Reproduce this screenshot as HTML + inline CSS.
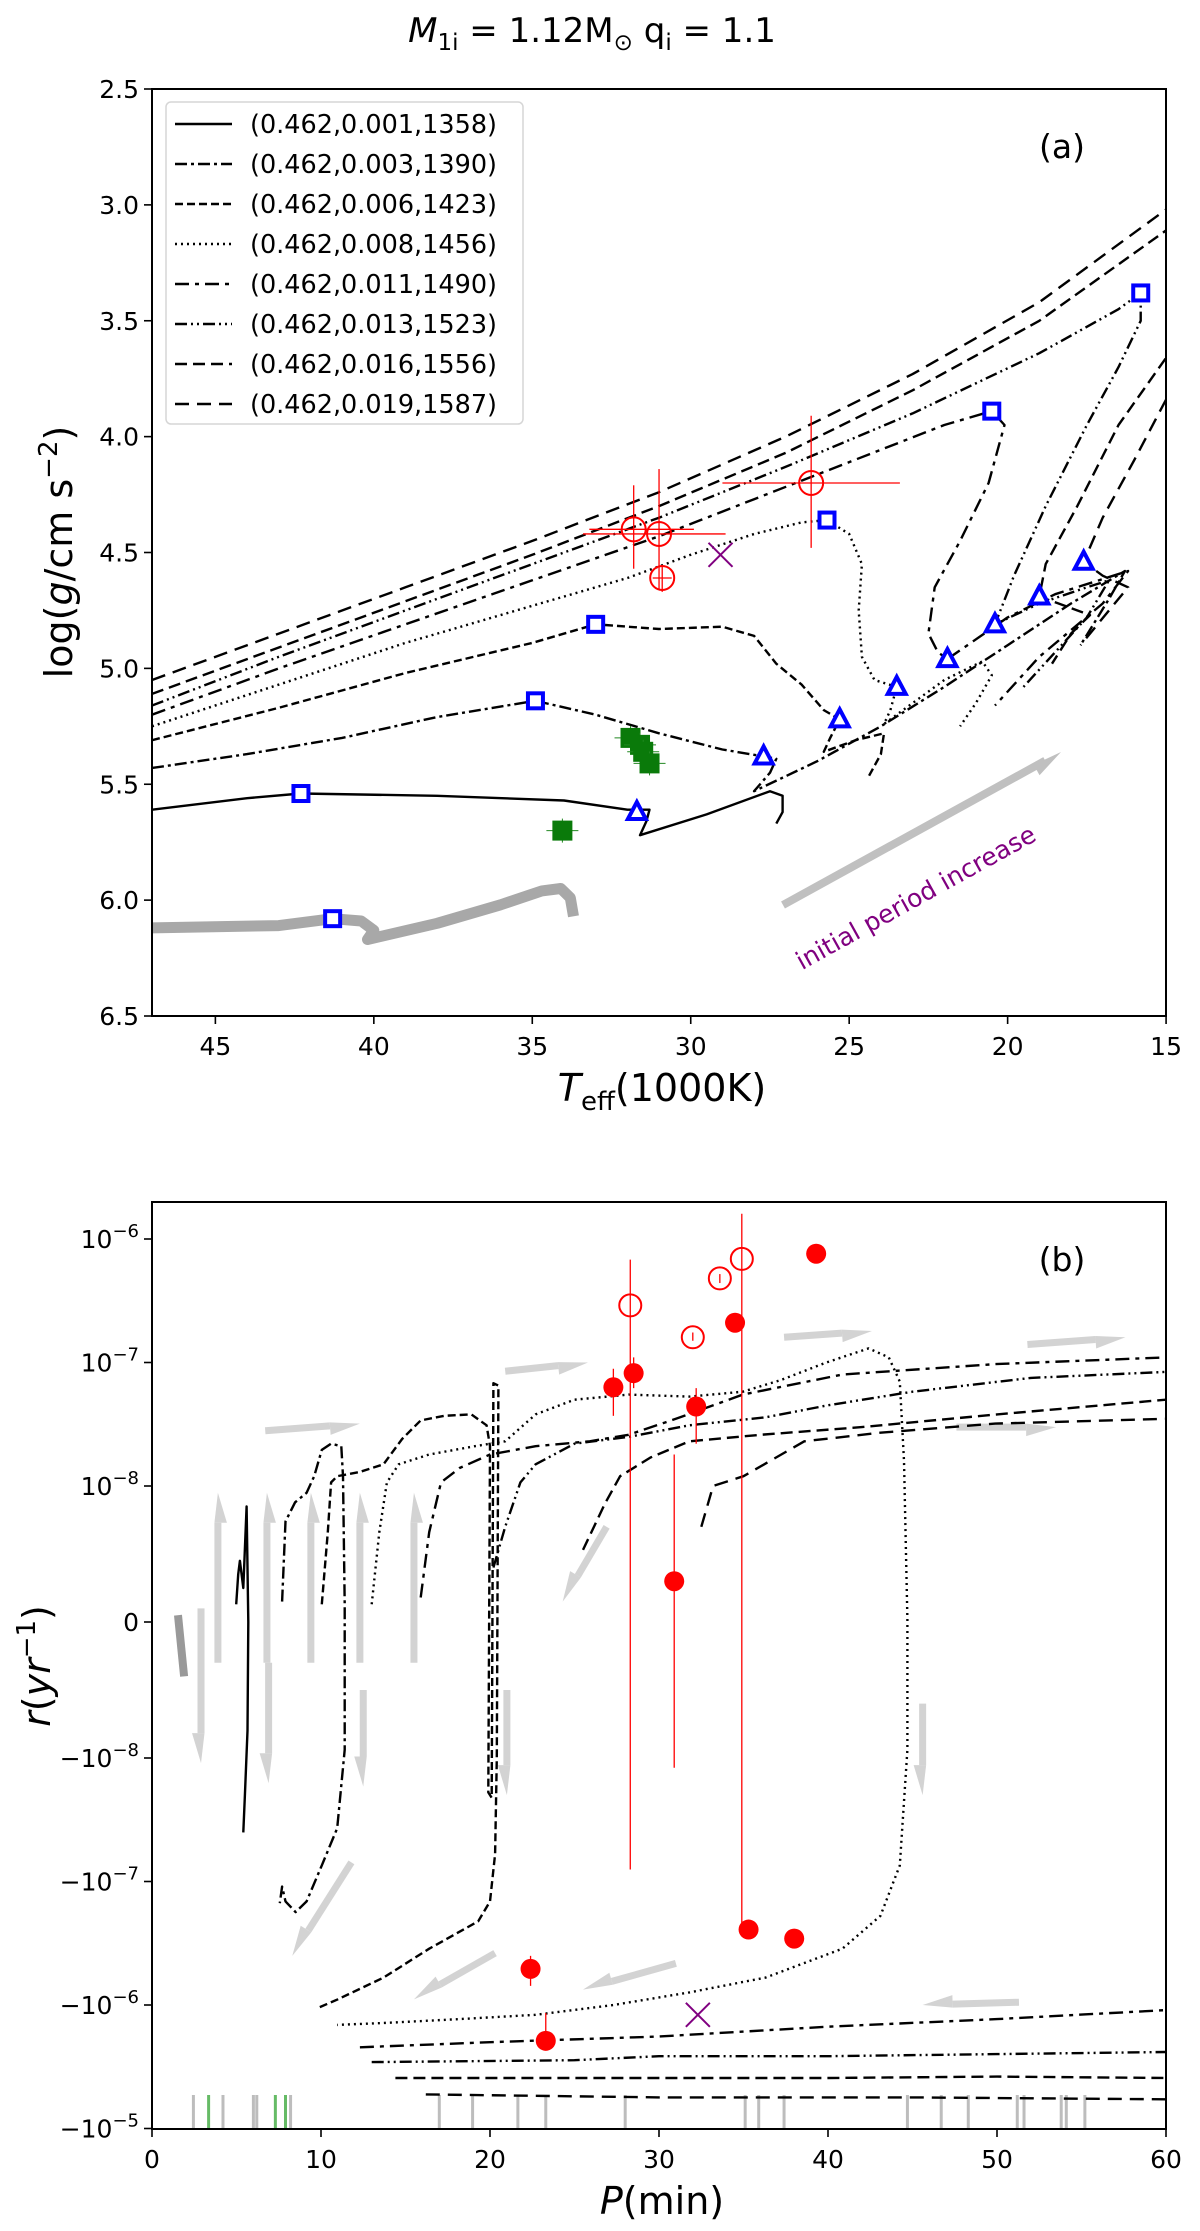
<!DOCTYPE html>
<html><head><meta charset="utf-8">
<style>
html,body{margin:0;padding:0;background:#fff;}
svg{display:block;font-family:"DejaVu Sans","Liberation Sans",sans-serif;}
</style></head>
<body>
<svg id="fig" width="1200" height="2231" viewBox="0 0 1200 2231" xmlns="http://www.w3.org/2000/svg">
<defs>
<clipPath id="clipA"><rect x="152" y="89" width="1014" height="927"/></clipPath>
<clipPath id="clipB"><rect x="152" y="1202" width="1014" height="927"/></clipPath>
</defs>
<text x="592" y="42" font-size="34" text-anchor="middle"><tspan font-style="italic">M</tspan><tspan font-size="23" dy="8">1i</tspan><tspan dy="-8"> = 1.12M</tspan><tspan font-size="23" dy="8">⊙</tspan><tspan dy="-8"> q</tspan><tspan font-size="23" dy="8">i</tspan><tspan dy="-8"> = 1.1</tspan></text>
<g id="panelA"></g>
<g id="panelB"></g>
</svg>
<script>
// ---------- Panel (a) data ----------
const seriesLabels = ["(0.462,0.001,1358)","(0.462,0.003,1390)","(0.462,0.006,1423)","(0.462,0.008,1456)","(0.462,0.011,1490)","(0.462,0.013,1523)","(0.462,0.016,1556)","(0.462,0.019,1587)"];
const trackA1 = [[47,5.61],[44,5.56],[42.3,5.54],[38,5.55],[34,5.57],[32,5.61],[31.3,5.61],[31.4,5.66],[31.6,5.72],[29.5,5.63],[27.5,5.53],[27.1,5.55],[27.1,5.62],[27.3,5.67]];
const trackA2 = [[47,5.43],[44,5.37],[41,5.3],[38,5.21],[34.9,5.14],[33,5.2],[31,5.28],[29,5.35],[27.7,5.38],[27.3,5.39],[27.5,5.45],[28.0,5.53],[26,5.4],[24,5.25],[22,5.08],[20,4.9],[18,4.72],[16.3,4.58],[16.8,4.7],[17.7,4.9]];
const trackA3 = [[47,5.31],[43,5.17],[39,5.02],[35,4.89],[33,4.81],[31,4.83],[29,4.82],[28,4.86],[27.3,4.98],[26.5,5.07],[25.8,5.18],[25.3,5.22],[25.6,5.3],[25.8,5.36],[24.8,5.31],[23.9,5.28],[24.0,5.37],[24.4,5.47]];
const trackA4 = [[47,5.25],[43,5.07],[39,4.89],[35,4.73],[32,4.61],[30,4.51],[28,4.42],[26.5,4.37],[25.7,4.36],[25,4.42],[24.6,4.55],[24.7,4.75],[24.6,4.95],[24.2,5.05],[23.5,5.08],[23.7,5.18],[23.9,5.24],[22,5.05],[20.8,4.97],[20.5,5.03],[21.0,5.15],[21.5,5.25]];
const trackA5 = [[47,5.2],[43,5.0],[39,4.81],[35,4.62],[31,4.43],[28,4.27],[25,4.11],[22,3.95],[20.5,3.89],[20.1,3.95],[20.6,4.2],[21.5,4.45],[22.3,4.65],[22.5,4.85],[22.2,4.93],[21.9,4.96],[20,4.78],[18.5,4.68],[16.2,4.58],[17,4.72],[19,4.95],[20.4,5.16]];
const trackA6 = [[47,5.16],[43,4.95],[39,4.75],[35,4.55],[31,4.35],[27,4.13],[23,3.9],[19,3.64],[16.5,3.45],[15.8,3.38],[15.8,3.5],[16.5,3.7],[17.5,3.95],[18.8,4.3],[19.8,4.6],[20.4,4.81],[19,4.72],[17.5,4.65],[16.8,4.62],[17.5,4.78],[19.5,5.08]];
const trackA7 = [[47,5.11],[43,4.91],[39,4.71],[35,4.51],[31,4.3],[27,4.07],[23,3.8],[19,3.5],[15,3.11],[13,2.9],[13,3.4],[15,3.66],[16.5,3.95],[17.8,4.3],[18.8,4.55],[19,4.69],[18.2,4.73],[17.4,4.77],[18,4.85],[18.6,4.98]];
const trackA8 = [[47,5.05],[43,4.85],[39,4.65],[35,4.45],[31,4.24],[27,4.0],[23,3.73],[19,3.42],[15,3.02],[13,2.8],[13,3.6],[15,3.84],[16,4.1],[17,4.35],[17.6,4.54],[17,4.6],[16.2,4.65],[16.8,4.75],[17.7,4.9]];
const grayTrackA = [[47,6.12],[43,6.11],[41.3,6.08],[40.4,6.09],[40.0,6.13],[40.2,6.17],[38,6.1],[36,6.02],[34.7,5.96],[34.1,5.95],[33.8,5.99],[33.7,6.07]];
const squaresT = [42.3,34.9,33.0,25.7,20.5,15.8,41.3];
const squaresG = [5.54,5.14,4.81,4.36,3.89,3.38,6.08];
const trianglesT = [31.7,27.7,25.3,23.5,21.9,20.4,19.0,17.6];
const trianglesG = [5.62,5.38,5.22,5.08,4.96,4.81,4.69,4.54];
const obsOpenT = [31.8,31.0,30.9,26.2];
const obsOpenG = [4.40,4.42,4.61,4.20];
const obsOpenTlo = [33.2,33.4,31.2,29.0];
const obsOpenThi = [29.9,28.9,30.6,23.4];
const obsOpenGlo = [4.21,4.14,4.56,3.91];
const obsOpenGhi = [4.57,4.66,4.67,4.48];
const greenT = [31.9,31.6,31.5,31.3,34.05];
const greenG = [5.30,5.33,5.36,5.41,5.70];
const crossA = [29.06,4.51];
const xTicksA = [45,40,35,30,25,20,15];
const yTicksA = [2.5,3.0,3.5,4.0,4.5,5.0,5.5,6.0,6.5];

// ---------- Panel (b) data ----------
const trackB1 = [[4.98,1.3e-9],[5.1,3.5e-9],[5.2,4.5e-9],[5.4,2.5e-9],[5.6,8.5e-9],[5.7,0],[5.65,-8e-9],[5.5,-2e-8],[5.4,-4e-8]];
const trackB2 = [[7.7,1.5e-9],[7.9,7.4e-9],[8.47,8.8e-9],[9.15,9.5e-9],[9.6,1.2e-8],[10.05,1.96e-8],[10.6,2.2e-8],[11.2,2.1e-8],[11.3,1.2e-8],[11.4,1.3e-9],[11.4,-9.4e-9],[10.96,-3.7e-8],[10.05,-7.4e-8],[9.15,-1.45e-7],[8.5,-1.77e-7],[7.9,-1.45e-7],[7.7,-1.1e-7],[7.56,-1.5e-7]];
const trackB3 = [[10.05,1.3e-9],[10.4,6.6e-9],[10.6,1.07e-8],[10.96,1.2e-8],[12.3,1.3e-8],[13.7,1.5e-8],[14.8,2.4e-8],[15.9,3.4e-8],[17.3,3.7e-8],[18.9,3.8e-8],[19.8,3.1e-8],[20.0,2.1e-8],[19.9,-1.9e-8],[20.1,-2.1e-8],[20.2,6.8e-8],[20.5,6.5e-8],[20.4,-1e-8],[20.3,-6e-8],[20.0,-1.45e-7],[19.3,-2.1e-7],[16.4,-3.5e-7],[13.7,-6e-7],[11,-9e-7],[9.8,-1.06e-6]];
const trackB4 = [[13.0,1.3e-9],[13.45,6.6e-9],[13.9,1.07e-8],[14.6,1.5e-8],[16.4,1.8e-8],[19.1,2.1e-8],[20.9,2.3e-8],[22.7,3.8e-8],[25.0,5e-8],[28.2,5.5e-8],[31.8,5.3e-8],[34.96,5.8e-8],[37.2,7.2e-8],[39.9,1e-7],[42.4,1.3e-7],[43.6,1.1e-7],[44.25,7e-8],[44.5,1.6e-8],[44.7,2e-10],[44.7,-9.4e-9],[44.25,-7.4e-8],[43.1,-1.9e-7],[40.85,-3.5e-7],[36.3,-6e-7],[31.8,-7.9e-7],[27.3,-1e-6],[22.7,-1.2e-6],[18.2,-1.3e-6],[13.7,-1.4e-6],[10.96,-1.45e-6]];
const trackB5pos = [[15.9,1.8e-9],[16.4,6.6e-9],[17.1,1.07e-8],[18.2,1.4e-8],[20.0,1.8e-8],[22.7,2.1e-8],[25.9,2.3e-8],[28.2,2.6e-8],[31,3.5e-8],[34.96,5.5e-8],[40.85,8e-8],[49.9,9.7e-8],[60,1.1e-7]];
const trackB6pos = [[20.2,4e-9],[20.9,7e-9],[21.8,1.07e-8],[22.7,1.5e-8],[25,2.2e-8],[28.2,2.5e-8],[31.8,3.1e-8],[36.3,3.6e-8],[40,4.5e-8],[45,5.8e-8],[52,7.5e-8],[60,8.4e-8]];
const trackB7pos = [[25.5,5.3e-9],[26.8,8.7e-9],[27.7,1.2e-8],[29.5,1.7e-8],[31.8,2.3e-8],[36,2.6e-8],[42,3e-8],[50,3.8e-8],[60,5e-8]];
const trackB8pos = [[32.5,7e-9],[33.2,1e-8],[35,1.2e-8],[38.6,2.3e-8],[43.1,2.7e-8],[49.9,3.2e-8],[60,3.5e-8]];
const trackB5neg = [[12.3,-2.2e-6],[20,-2.0e-6],[30,-1.8e-6],[40,-1.5e-6],[50,-1.3e-6],[60,-1.1e-6]];
const trackB6neg = [[13,-2.9e-6],[25,-2.8e-6],[30,-2.6e-6],[40,-2.6e-6],[50,-2.5e-6],[60,-2.4e-6]];
const trackB7neg = [[14.4,-3.9e-6],[25,-3.9e-6],[40,-3.9e-6],[50,-3.8e-6],[60,-3.9e-6]];
const trackB8neg = [[16.2,-5.3e-6],[30,-5.6e-6],[45,-5.6e-6],[60,-5.8e-6]];
const grayTrackB = [[1.54,5e-10],[1.9,-4e-9]];
const filledP = [27.3,28.5,32.2,34.5,39.3,30.9,35.3,38.0,22.4,23.3];
const filledR = [6.3e-8,8.2e-8,4.4e-8,2.1e-7,7.6e-7,3e-9,-2.45e-7,-2.9e-7,-5.1e-7,-1.95e-6];
const filledRlo = [3.7e-8,6.2e-8,2.2e-8,2.1e-7,7.6e-7,-1.2e-8,-2.45e-7,-2.9e-7,-7e-7,-2.3e-6];
const filledRhi = [8.9e-8,1.1e-7,6.2e-8,2.1e-7,7.6e-7,1.8e-8,-2.45e-7,-2.9e-7,-4e-7,-1.16e-6];
const openP = [28.3,32.0,33.6,34.9];
const openR = [2.9e-7,1.6e-7,4.8e-7,6.9e-7];
const openRlo = [-8e-8,1.5e-7,4.4e-7,-2.45e-7];
const openRhi = [6.8e-7,1.75e-7,5.2e-7,1.6e-6];
const crossB = [32.3,-1.2e-6];
const rugGray = [2.45,4.2,6.0,6.2,8.2,17.0,18.97,21.65,23.3,28.0,35.1,35.9,37.4,44.7,46.7,48.3,51.2,51.6,53.8,54.1,55.2];
const rugGreen = [3.35,7.3,7.9];
const xTicksB = [0,10,20,30,40,50,60];
const yTickValsB = [1e-6,1e-7,1e-8,0,-1e-8,-1e-7,-1e-6,-1e-5];

const NS = "http://www.w3.org/2000/svg";
function mk(tag, attrs, parent){const e=document.createElementNS(NS,tag);for(const k in attrs)e.setAttribute(k,attrs[k]);parent.appendChild(e);return e;}

const xA = t => 152 + (47 - t) * 31.69;
const yA = g => 89 + (g - 2.5) * 231.75;
const xB = p => 152 + p * 16.9;
function yB(r){
  const s = Math.sign(r), a = Math.abs(r);
  let off = a < 1e-8 ? 136 * a / 1e-8 : 136 + 123.5 * Math.log10(a / 1e-8);
  return 1622 - s * off;
}

const dashes = ["", "12,4,3,4", "8,4", "2,4", "14,6,4,6", "12,4,2,4,2,4", "12,6", "14,8"];
const TICK_FS = 25;

const A = document.getElementById("panelA");
const B = document.getElementById("panelB");

function polyline(parent, pts, fx, fy, dash, name, stroke, width, clip){
  const d = pts.map((p,i)=>(i?"L":"M")+fx(p[0]).toFixed(1)+","+fy(p[1]).toFixed(1)).join(" ");
  const e = mk("path",{d:d,fill:"none",stroke:stroke||"#000","stroke-width":width||2.4,"stroke-linejoin":"round","stroke-linecap":"butt"},parent);
  if(dash) e.setAttribute("stroke-dasharray",dash);
  if(clip) e.setAttribute("clip-path",clip);
  
  
  return e;
}

// ---- Panel A drawing ----
const gA = mk("g",{"clip-path":"url(#clipA)"},A);
polyline(gA, grayTrackA, xA, yA, "", "gray-track-a", "#a8a8a8", 11);
const tracksA = [trackA1,trackA2,trackA3,trackA4,trackA5,trackA6,trackA7,trackA8];
tracksA.forEach((t,i)=>polyline(gA, t, xA, yA, dashes[i], "track-"+(i+1)+"-a"));

(function(){
  const g = mk("g",{},A);
  
  
  const x1=783,y1=905,x2=1061,y2=752;
  const ang=Math.atan2(y2-y1,x2-x1);
  mk("line",{x1:x1,y1:y1,x2:x2-18*Math.cos(ang),y2:y2-18*Math.sin(ang),stroke:"#c0c0c0","stroke-width":8},g);
  const hx=x2,hy=y2, bx=x2-30*Math.cos(ang), by=y2-30*Math.sin(ang);
  const px=-Math.sin(ang), py=Math.cos(ang);
  mk("polygon",{points:`${hx},${hy} ${bx+px*10},${by+py*10} ${bx-px*2},${by-py*2}`,fill:"#c0c0c0"},g);
  const t = mk("text",{x:916,y:906,"font-size":25,fill:"#800080","text-anchor":"middle",transform:"rotate(-29 916 898)"},A);
  t.textContent="initial period increase";
  
  
})();

for(let i=0;i<obsOpenT.length;i++){
  const g=mk("g",{},A);
  
  
  mk("line",{x1:xA(obsOpenTlo[i]),x2:xA(obsOpenThi[i]),y1:yA(obsOpenG[i]),y2:yA(obsOpenG[i]),stroke:"#ff0000","stroke-width":1.3},g);
  mk("line",{x1:xA(obsOpenT[i]),x2:xA(obsOpenT[i]),y1:yA(obsOpenGlo[i]),y2:yA(obsOpenGhi[i]),stroke:"#ff0000","stroke-width":1.3},g);
  mk("circle",{cx:xA(obsOpenT[i]),cy:yA(obsOpenG[i]),r:12,fill:"none",stroke:"#ff0000","stroke-width":2},g);
}
for(let i=0;i<greenT.length;i++){
  const g=mk("g",{},A);
  
  
  const cx=xA(greenT[i]), cy=yA(greenG[i]);
  mk("line",{x1:cx-16,x2:cx+16,y1:cy,y2:cy,stroke:"#228822","stroke-width":1},g);
  mk("line",{x1:cx,x2:cx,y1:cy-12,y2:cy+12,stroke:"#228822","stroke-width":1},g);
  mk("rect",{x:cx-10,y:cy-10,width:20,height:20,fill:"#0a7a0a"},g);
}
(function(){
  const cx=xA(crossA[0]), cy=yA(crossA[1]);
  const g=mk("g",{stroke:"#800080","stroke-width":2},A);
  
  
  mk("line",{x1:cx-12,y1:cy-12,x2:cx+12,y2:cy+12},g);
  mk("line",{x1:cx-12,y1:cy+12,x2:cx+12,y2:cy-12},g);
})();
for(let i=0;i<squaresT.length;i++){
  const cx=xA(squaresT[i]), cy=yA(squaresG[i]);
  const e=mk("rect",{x:cx-7.5,y:cy-7.5,width:15,height:15,fill:"#fff",stroke:"#0000ff","stroke-width":4},A);
  
  
}
for(let i=0;i<trianglesT.length;i++){
  const cx=xA(trianglesT[i]), cy=yA(trianglesG[i]);
  const e=mk("polygon",{points:`${cx},${cy-10} ${cx+9},${cy+7} ${cx-9},${cy+7}`,fill:"#fff",stroke:"#0000ff","stroke-width":4,"stroke-linejoin":"miter"},A);
  
  
}

(function(){
  const f=mk("rect",{x:152,y:89,width:1014,height:927,fill:"none",stroke:"#000","stroke-width":2},A);
  
  
  xTicksA.forEach(t=>{
    const x=xA(t);
    mk("line",{x1:x,x2:x,y1:1016,y2:1024,stroke:"#000","stroke-width":1.6},A);
    const tx=mk("text",{x:x,y:1055,"font-size":TICK_FS,"text-anchor":"middle"},A);
    tx.textContent=t;
    
    
  });
  yTicksA.forEach(t=>{
    const y=yA(t);
    mk("line",{x1:144,x2:152,y1:y,y2:y,stroke:"#000","stroke-width":1.6},A);
    const tx=mk("text",{x:139,y:y+9,"font-size":TICK_FS,"text-anchor":"end"},A);
    tx.textContent=t.toFixed(1);
    
    
  });
})();
</script>
<script>
(function(){
  const A=document.getElementById("panelA");
  const NS="http://www.w3.org/2000/svg";
  function mk(tag,attrs,parent){const e=document.createElementNS(NS,tag);for(const k in attrs)e.setAttribute(k,attrs[k]);parent.appendChild(e);return e;}
  const lg=mk("g",{},A);
  
  
  mk("rect",{x:166,y:102,width:357,height:322,rx:5,fill:"#fff","fill-opacity":0.85,stroke:"#d6d6d6","stroke-width":1.5},lg);
  const dashes=["", "12,4,3,4", "8,4", "2,4", "14,6,4,6", "12,4,2,4,2,4", "12,6", "14,8"];
  seriesLabels.forEach((lab,i)=>{
    const y=124+i*40;
    const ln=mk("line",{x1:175,x2:232,y1:y,y2:y,stroke:"#000","stroke-width":2.4},lg);
    if(dashes[i]) ln.setAttribute("stroke-dasharray",dashes[i]);
    
    
    const t=mk("text",{x:250,y:y+9,"font-size":25.5},lg);
    t.textContent=lab;
    
    
  });
  let t=mk("text",{x:1062,y:158,"font-size":33,"text-anchor":"middle"},A);
  t.textContent="(a)";  
  t=mk("text",{x:0,y:0,"font-size":38,"text-anchor":"middle",transform:"translate(72 552) rotate(-90)"},A);
  t.innerHTML='log(<tspan font-style="italic">g</tspan>/cm s<tspan font-size="26" dy="-15">−2</tspan><tspan dy="15">)</tspan>';
   
  t=mk("text",{x:662,y:1101,"font-size":38,"text-anchor":"middle"},A);
  t.innerHTML='<tspan font-style="italic">T</tspan><tspan font-size="26" dy="9">eff</tspan><tspan dy="-9">(1000K)</tspan>';
   
})();
</script>
<script>
(function(){
  const B=document.getElementById("panelB");
  const gB=mk("g",{"clip-path":"url(#clipB)"},B);

  const arrows=[[6.7,2.8e-8,12.3,3.2e-8],[20.9,8.5e-8,25.8,1e-7],[37.4,1.6e-7,42.6,1.8e-7],[51.8,1.4e-7,57.6,1.6e-7],[47.6,3e-8,53.5,3e-8],
    [3.9,-3e-9,3.9,9.5e-9],[6.8,-3e-9,6.8,9.5e-9],[9.4,-3e-9,9.4,9.5e-9],[12.3,-3e-9,12.3,9.5e-9],[15.5,-3e-9,15.5,9.5e-9],
    [2.9,1e-9,2.9,-1.1e-8],[6.9,-3e-9,6.9,-1.6e-8],[12.5,-5e-9,12.5,-1.7e-8],[21.0,-5e-9,21.0,-2e-8],[45.6,-6e-9,45.6,-2e-8],
    [11.8,-7e-8,8.3,-4e-7],[20.3,-3.8e-7,15.5,-9e-7],[31,-4.6e-7,25.5,-7.5e-7],[51.3,-9.5e-7,45.6,-1e-6],[26.9,7e-9,24.3,1.5e-9]];
  arrows.forEach(a=>{
    const x1=xB(a[0]),y1=yB(a[1]),x2=xB(a[2]),y2=yB(a[3]);
    const ang=Math.atan2(y2-y1,x2-x1);
    const bx=x2-30*Math.cos(ang), by=y2-30*Math.sin(ang);
    const px=-Math.sin(ang), py=Math.cos(ang);
    const g=mk("g",{},gB);
    
    
    mk("line",{x1:x1,y1:y1,x2:bx,y2:by,stroke:"#d3d3d3","stroke-width":7},g);
    mk("polygon",{points:`${x2},${y2} ${bx+px*9},${by+py*9} ${bx-px*3.5},${by-py*3.5}`,fill:"#d3d3d3"},g);
  });

  rugGray.forEach(p=>{const e=mk("line",{x1:xB(p),x2:xB(p),y1:2095,y2:2129,stroke:"#bdbdbd","stroke-width":3},gB);});
  rugGreen.forEach(p=>{const e=mk("line",{x1:xB(p),x2:xB(p),y1:2095,y2:2129,stroke:"#66bb66","stroke-width":3},gB);});

  polyline(gB, grayTrackB, xB, yB, "", "gray-track-b", "#999", 8);
  polyline(gB, trackB1, xB, yB, dashes[0], "track-1-b");
  polyline(gB, trackB2, xB, yB, dashes[1], "track-2-b");
  polyline(gB, trackB3, xB, yB, dashes[2], "track-3-b");
  polyline(gB, trackB4, xB, yB, dashes[3], "track-4-b");
  polyline(gB, trackB5pos, xB, yB, dashes[4], "track-5-b-pos");
  polyline(gB, trackB6pos, xB, yB, dashes[5], "track-6-b-pos");
  polyline(gB, trackB7pos, xB, yB, dashes[6], "track-7-b-pos");
  polyline(gB, trackB8pos, xB, yB, dashes[7], "track-8-b-pos");
  polyline(gB, trackB5neg, xB, yB, dashes[4], "track-5-b-neg");
  polyline(gB, trackB6neg, xB, yB, dashes[5], "track-6-b-neg");
  polyline(gB, trackB7neg, xB, yB, dashes[6], "track-7-b-neg");
  polyline(gB, trackB8neg, xB, yB, dashes[7], "track-8-b-neg");

  for(let i=0;i<filledP.length;i++){
    const g=mk("g",{},gB);
    
    
    mk("line",{x1:xB(filledP[i]),x2:xB(filledP[i]),y1:yB(filledRlo[i]),y2:yB(filledRhi[i]),stroke:"#ff0000","stroke-width":1.3},g);
    mk("circle",{cx:xB(filledP[i]),cy:yB(filledR[i]),r:10,fill:"#ff0000"},g);
  }
  for(let i=0;i<openP.length;i++){
    const g=mk("g",{},gB);
    
    
    mk("line",{x1:xB(openP[i]),x2:xB(openP[i]),y1:yB(openRlo[i]),y2:yB(openRhi[i]),stroke:"#ff0000","stroke-width":1.3},g);
    mk("circle",{cx:xB(openP[i]),cy:yB(openR[i]),r:11,fill:"none",stroke:"#ff0000","stroke-width":2},g);
  }
  (function(){
    const cx=xB(crossB[0]), cy=yB(crossB[1]);
    const g=mk("g",{stroke:"#800080","stroke-width":2},gB);
    
    
    mk("line",{x1:cx-12,y1:cy-12,x2:cx+12,y2:cy+12},g);
    mk("line",{x1:cx-12,y1:cy+12,x2:cx+12,y2:cy-12},g);
  })();

  const f=mk("rect",{x:152,y:1202,width:1014,height:927,fill:"none",stroke:"#000","stroke-width":2},B);
  
  
  xTicksB.forEach(t=>{
    const x=xB(t);
    mk("line",{x1:x,x2:x,y1:2129,y2:2137,stroke:"#000","stroke-width":1.6},B);
    const tx=mk("text",{x:x,y:2168,"font-size":TICK_FS,"text-anchor":"middle"},B);
    tx.textContent=t;
    
    
  });
  yTickValsB.forEach(v=>{
    const y=yB(v);
    mk("line",{x1:144,x2:152,y1:y,y2:y,stroke:"#000","stroke-width":1.6},B);
    const tx=mk("text",{x:139,y:y+9,"font-size":TICK_FS,"text-anchor":"end"},B);
    if(v===0){tx.textContent="0";}
    else{
      const ex=Math.round(Math.log10(Math.abs(v)));
      tx.innerHTML=(v<0?"−":"")+'10<tspan font-size="18" dy="-11">−'+Math.abs(ex)+'</tspan>';
    }
    
    
  });
  let t=mk("text",{x:1062,y:1271,"font-size":33,"text-anchor":"middle"},B);
  t.textContent="(b)";  
  t=mk("text",{x:0,y:0,"font-size":38,"text-anchor":"middle",transform:"translate(50 1666) rotate(-90)"},B);
  t.innerHTML='<tspan font-style="italic">r</tspan>(<tspan font-style="italic">yr</tspan><tspan font-size="26" dy="-15">−1</tspan><tspan dy="15">)</tspan>';
   
  t=mk("text",{x:662,y:2214,"font-size":38,"text-anchor":"middle"},B);
  t.innerHTML='<tspan font-style="italic">P</tspan>(min)';
   
})();
</script>
</body></html>
